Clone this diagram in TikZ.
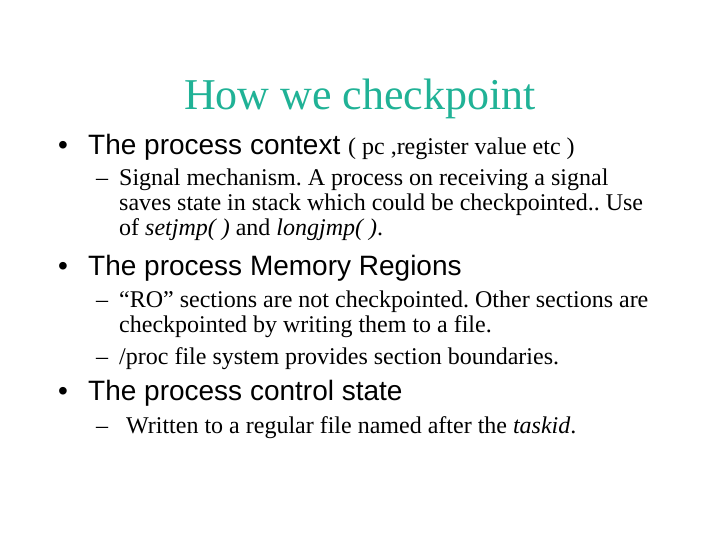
\documentclass[tikz,border=0pt]{standalone}
\usepackage{fontspec}
\setmainfont{Liberation Serif}
\newfontfamily\arial{Liberation Sans}
\definecolor{ttl}{RGB}{32,178,150}
\frenchspacing
\begin{document}
\begin{tikzpicture}[x=1pt,y=-1pt,
  every node/.style={inner sep=0pt,anchor=base west},
  big/.style={font=\arial\fontsize{28}{32}\selectfont},
  sub/.style={font=\fontsize{24}{28}\selectfont}]
\useasboundingbox (0,0) rectangle (720,540);
\node[anchor=base,font=\fontsize{44}{50}\selectfont,text=ttl] (t) at (360,110) {How we checkpoint};
\node[big] (b1) at (58,155) {•};
\node[big] (l1) at (88,155) {The process context {\rmfamily\fontsize{24}{28}\selectfont ( pc ,register value etc )}};
\node[sub] (d1) at (96,186) {–};
\node[sub] (s1) at (119,186) {Signal mechanism. A process on receiving a signal};
\node[sub] (s2) at (119,211) {saves state in stack which could be checkpointed.. Use};
\node[sub] (s3) at (119,236) {of \textit{setjmp( )} and \textit{longjmp( )}.};
\node[big] (b2) at (58,275) {•};
\node[big] (l2) at (88,275) {The process Memory Regions};
\node[sub] (d2) at (96,307) {–};
\node[sub] (s4) at (119,307) {“RO” sections are not checkpointed. Other sections are};
\node[sub] (s5) at (119,332) {checkpointed by writing them to a file.};
\node[sub] (d3) at (96,364) {–};
\node[sub] (s6) at (119,364) {/proc file system provides section boundaries.};
\node[big] (b3) at (58,400) {•};
\node[big] (l3) at (88,400) {The process control state};
\node[sub] (d4) at (96,433) {–};
\node[sub] (s7) at (126,433) {Written to a regular file named after the \textit{taskid}.};
\end{tikzpicture}
\end{document}
